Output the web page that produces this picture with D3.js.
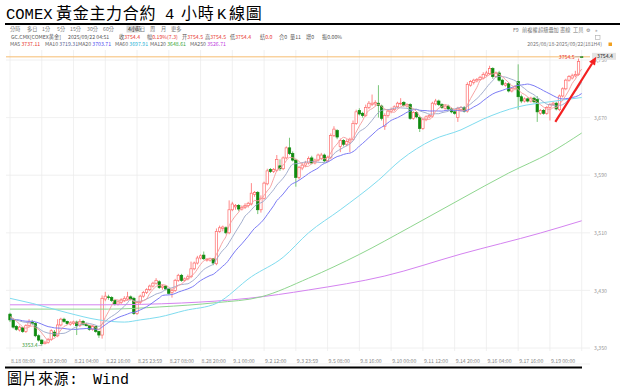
<!DOCTYPE html>
<html><head><meta charset="utf-8">
<script src="https://cdn.jsdelivr.net/npm/d3@7"></script>
<style>body{margin:0;background:#fff;} svg{display:block;}</style>
</head><body>
<svg id="c" width="622" height="391"></svg>
<script>
// ---------- DATA ----------
const open = [3397,3389,3380,3375,3378,3373,3381,3386,3384,3367,3361,3356,3358,3362,3372,3367,3382,3390,3387,3383,
3384,3386,3381,3387,3383,3381,3376,3380,3373,3368,3418,3421,3420,3416,3411,3413,3416,3418,3421,3419,
3398,3413,3422,3427,3431,3436,3440,3442,3434,3436,3432,3427,3430,3444,3451,3444,3446,3449,3460,3468,
3475,3479,3472,3472,3474,3467,3512,3516,3517,3510,3542,3546,3548,3543,3545,3548,3550,3563,3566,3542,
3558,3578,3598,3595,3597,3603,3599,3614,3628,3620,3611,3587,3600,3604,3607,3614,3607,3611,3613,3618,
3610,3615,3645,3652,3630,3638,3633,3636,3640,3662,3680,3676,3673,3684,3688,3689,3690,3686,3658,3673,
3679,3681,3685,3689,3691,3686,3688,3669,3677,3670,3655,3667,3671,3672,3689,3693,3688,3683,3686,3682,
3678,3670,3681,3684,3679,3715,3719,3721,3723,3725,3729,3731,3738,3727,3732,3722,3715,3717,3707,3710,
3720,3699,3693,3696,3693,3697,3695,3676,3680,3676,3684,3688,3690,3681,3700,3710,3722,3725,3728,3730,
3754.5];
const high = [3399,3391,3382,3381,3379,3383,3390,3389,3386,3369,3362,3360,3364,3376,3375,3390,3392,3392,3388,3387,
3388,3388,3390,3389,3385,3382,3382,3381,3374,3423,3428,3424,3422,3417,3416,3419,3422,3428,3423,3421,
3415,3424,3429,3433,3438,3442,3447,3444,3438,3437,3433,3432,3446,3453,3453,3448,3452,3470,3470,3478,
3480,3484,3475,3475,3475,3516,3520,3520,3519,3555,3553,3550,3550,3548,3551,3553,3579,3568,3568,3562,
3581,3599,3600,3600,3618,3612,3616,3630,3642,3623,3613,3603,3608,3610,3616,3617,3613,3620,3621,3620,
3617,3648,3658,3654,3641,3640,3640,3642,3666,3681,3683,3678,3688,3693,3702,3694,3715,3688,3676,3682,
3684,3687,3692,3697,3693,3690,3690,3679,3679,3672,3670,3673,3675,3692,3696,3695,3690,3688,3688,3684,
3681,3685,3686,3686,3719,3722,3724,3725,3728,3733,3735,3742,3740,3734,3735,3724,3719,3719,3712,3715,
3744,3702,3698,3698,3699,3699,3700,3682,3682,3686,3690,3692,3692,3702,3712,3724,3729,3731,3735,3752,
3754.5];
const low = [3386,3377,3374,3373,3371,3371,3379,3382,3365,3359,3353.4,3355,3356,3360,3365,3365,3380,3385,3382,3381,
3382,3368,3379,3381,3380,3374,3374,3371,3364,3363,3415,3417,3414,3409,3409,3411,3414,3416,3416,3396,
3396,3411,3420,3425,3429,3434,3438,3432,3431,3430,3424,3420,3428,3442,3442,3442,3444,3447,3458,3466,
3473,3472,3470,3470,3465,3465,3510,3512,3508,3508,3540,3542,3540,3541,3543,3545,3548,3560,3536,3538,
3556,3576,3593,3593,3595,3596,3597,3612,3618,3609,3574,3584,3597,3601,3605,3605,3605,3609,3611,3608,
3608,3612,3643,3640,3622,3630,3630,3622,3638,3660,3673,3670,3671,3682,3686,3686,3670,3666,3653,3670,
3676,3679,3683,3687,3685,3684,3667,3667,3669,3650,3653,3665,3669,3670,3687,3686,3682,3681,3680,3676,
3674,3664,3678,3677,3677,3713,3716,3719,3721,3723,3727,3729,3724,3725,3720,3714,3713,3705,3705,3708,
3681,3690,3691,3691,3691,3690,3664,3674,3674,3674,3666,3686,3680,3679,3698,3708,3720,3723,3726,3728,
3754.4];
const close = [3389,3379,3376,3379,3373,3381,3386,3384,3367,3361,3356,3358,3362,3374,3367,3382,3390,3387,3384,3385,
3386,3381,3387,3383,3381,3376,3380,3373,3368,3419,3422,3420,3416,3411,3414,3417,3419,3421,3418,3398,
3413,3422,3427,3431,3436,3440,3444,3434,3436,3432,3426,3430,3444,3451,3444,3446,3449,3460,3468,3475,
3478,3474,3473,3474,3468,3512,3517,3518,3510,3542,3550,3548,3543,3545,3548,3551,3565,3566,3542,3558,
3579,3596,3595,3598,3612,3599,3614,3628,3620,3611,3587,3601,3604,3607,3613,3607,3611,3618,3618,3610,
3615,3645,3654,3643,3638,3633,3637,3640,3662,3678,3675,3673,3684,3690,3690,3691,3687,3669,3673,3679,
3681,3685,3690,3690,3687,3688,3669,3677,3671,3655,3667,3671,3673,3690,3693,3688,3684,3686,3682,3678,
3676,3683,3684,3679,3716,3720,3722,3723,3726,3730,3732,3738,3727,3732,3722,3716,3717,3707,3710,3713,
3699,3693,3696,3693,3697,3692,3678,3680,3676,3684,3688,3690,3682,3700,3710,3722,3727,3728,3730,3748,
3754.4];
// closes before the first visible bar (for the short moving averages)
const prevCloses = [3382,3386,3390,3395,3392,3388,3385,3383,3387,3392,3396,3393,3390,3386,3388,3392,3395,3398,3394];

// long moving averages: [bar index, value]
const ma60Pts = [[0,3419],[7,3412],[18,3399],[28,3389],[36,3386],[41,3389],[47,3393],[55,3402],[65,3412],[76,3449],[86,3476],[94,3510],[104,3542],[116,3583],[123,3611],[133,3639],[142,3653],[149,3668],[160,3685],[170,3692],[180,3697.91]];
const ma120Pts = [[0,3404],[31,3404],[47,3407],[65,3413],[79,3421],[94,3447],[110,3480],[126,3518],[142,3557],[157,3593],[170,3621],[180,3648.61]];
const ma250Pts = [[0,3410],[29,3410],[54,3412.5],[75,3419],[94,3430.6],[118,3450],[142,3480.5],[167,3509.7],[180,3526.71]];

const xTickIndex = [0,10,20,30,40,50,60,70,80,90,100,110,120,130,140,150,160,170];
const xTickLabels = ["8.18 08:00","8.19 20:00","8.21 04:00","8.22 16:00","8.25 23:59","8.27 08:00","8.28 20:00","9.1 00:00","9.2 12:00","9.3 23:59","9.5 08:00","9.8 16:00","9.10 00:00","9.11 12:00","9.14 20:00","9.16 04:00","9.17 16:00","9.19 00:00"];
const gridIndex = [0,10,20,30,40,50,60,70,80,90,100,110,120,130,140,150,160,170,180];
const yTicks = [3350,3430,3510,3590,3670,3750];

const lastPrice = 3754.4, highMark = {i:180, p:3754.5}, lowMark = {i:10, p:3353.4};
const arrowFrom = {i:171.7, p:3664}, arrowTo = {i:184.6, p:3754.5};

const maLegend = [
  {name:"MA5", value:"3737.11", color:"#e8372f"},
  {name:"MA10", value:"3719.31", color:"#5a6796"},
  {name:"MA20", value:"3703.71", color:"#4b4bf0"},
  {name:"MA60", value:"3697.91", color:"#2bb3d6"},
  {name:"MA120", value:"3648.61", color:"#3aa63a"},
  {name:"MA250", value:"3526.71", color:"#c040e0"}
];

// ---------- DRAW ----------
const svg = d3.select("#c");
const FONT = "'Noto Sans CJK TC','Noto Sans',sans-serif";
const MONO = "'Liberation Mono',monospace";
const L = 6, R = 590, T = 50, B = 351;
const x = d3.scaleLinear().domain([0,180]).range([10,581.7]);
const y = d3.scaleLinear().domain([3350,3750]).range([348,60]);

// Title
const title = svg.append("text").attr("y",18.6).attr("fill","#000").attr("font-size",16).attr("font-family",FONT);
title.append("tspan").attr("x",6).attr("font-family",MONO).attr("font-size",15.5).text("COMEX");
title.append("tspan").attr("x",56).attr("letter-spacing",0.7).text("黃金主力合約");
title.append("tspan").attr("x",165).attr("font-family",MONO).attr("font-size",15.5).text("4");
title.append("tspan").attr("x",181).attr("letter-spacing",0.7).text("小時");
title.append("tspan").attr("x",217).attr("font-family",MONO).attr("font-size",15.5).text("K");
title.append("tspan").attr("x",229).attr("letter-spacing",0.7).text("線圖");
svg.append("line").attr("x1",5).attr("x2",620).attr("y1",24).attr("y2",24).attr("stroke","#000").attr("stroke-width",2);

// toolbar
const tb = [["分時",10],["多日",27],["1分",42],["5分",57],["15分",70],["30分",87],["60分",103],["4小時",128],["日",140],["周",150],["月",161],["更多",171]];
svg.append("rect").attr("x",126.5).attr("y",25.5).attr("width",12).attr("height",7).attr("fill","#d6d6d6");
tb.forEach(t=>svg.append("text").attr("x",t[1]).attr("y",31).attr("font-size",5.2).attr("font-family",FONT).attr("fill",t[0]==="4小時"?"#222":"#777").text(t[0]));
const tr = [["F9",513],["前複權",522],["超級疊加",538],["畫線",560],["工具",573],["⚙",586],["»",595]];
tr.forEach(t=>svg.append("text").attr("x",t[1]).attr("y",31.5).attr("font-size",5.2).attr("font-family",FONT).attr("fill","#777").text(t[0]));
svg.append("rect").attr("x",595.5).attr("y",35.5).attr("width",4.5).attr("height",4).attr("fill","none").attr("stroke","#aaa").attr("stroke-width",0.6);
svg.append("text").attr("x",602).attr("y",46).attr("text-anchor","end").attr("font-size",5.2).attr("font-family",FONT).attr("fill","#777").text("2025/08/18-2025/09/22(181H4)");
svg.append("rect").attr("x",608.5).attr("y",42.5).attr("width",3.5).attr("height",3.5).attr("fill","#f0a020");

// row 2
const row2 = [["GC.CMX[COMEX黄金]","",11],["2025/09/22 04:51","",68],["收","3754.4",119],["幅","0.19%(7.3)",147],["开","3754.5",182],["高","3754.5",205],["低","3754.4",230],["结","0.0",260],["合","0",279],["量","11",290],["增","0",306],["振","0.00%",322]];
row2.forEach((r,k)=>{
  const t = svg.append("text").attr("x",r[2]).attr("y",38.5).attr("font-size",5.2).attr("font-family",FONT).attr("fill","#555");
  t.append("tspan").text(r[0]);
  if(r[1]) t.append("tspan").attr("fill", k<=7 ? "#e8372f" : "#555").text(r[1]);
});
// row 3 MA legend
const maX = [10,45,78,115,150,190];
maLegend.forEach((m,k)=>{
  const t = svg.append("text").attr("x",maX[k]).attr("y",45.5).attr("font-size",5.2).attr("font-family",FONT).attr("fill","#666");
  t.append("tspan").text(m.name+" ");
  t.append("tspan").attr("fill",m.color).text(m.value);
});

// clip
svg.append("clipPath").attr("id","pc").append("rect").attr("x",L).attr("y",T).attr("width",R-L).attr("height",B-T);

// grid
const g = svg.append("g");
g.selectAll(".vg").data(gridIndex).enter().append("line")
  .attr("x1",d=>x(d)).attr("x2",d=>x(d)).attr("y1",T).attr("y2",B).attr("stroke","#ececec").attr("stroke-width",0.8);
g.selectAll(".hg").data(yTicks).enter().append("line")
  .attr("x1",L).attr("x2",R).attr("y1",d=>y(d)).attr("y2",d=>y(d)).attr("stroke","#ececec").attr("stroke-width",0.8);
svg.append("line").attr("x1",L).attr("x2",R).attr("y1",B+13).attr("y2",B+13).attr("stroke","#eeeeee").attr("stroke-width",0.8);

// right axis
const ya = svg.append("g").attr("transform",`translate(${R+3},0)`)
  .call(d3.axisRight(y).tickValues(yTicks).tickSize(0).tickPadding(1));
ya.select(".domain").remove();
ya.selectAll("text").attr("font-size",5.2).attr("fill","#999").attr("font-family",FONT);

// bottom labels
svg.append("g").selectAll("text").data(xTickIndex).enter().append("text")
  .attr("x",d=>x(d)+1).attr("y",B+12).attr("text-anchor","start")
  .attr("font-size",5.2).attr("fill","#888").attr("font-family",FONT)
  .text((d,i)=>xTickLabels[i]);

// last price line
svg.append("line").attr("x1",L).attr("x2",R).attr("y1",y(lastPrice)).attr("y2",y(lastPrice)).attr("stroke","#f6bd70").attr("stroke-width",1);

const plot = svg.append("g").attr("clip-path","url(#pc)");
const bars = d3.range(close.length).map(i=>({i,o:open[i],h:high[i],l:low[i],c:close[i]}));
const up = d=>d.c>=d.o;
const bw = 2.4;
plot.selectAll(".wick").data(bars).enter().append("line")
  .attr("x1",d=>x(d.i)).attr("x2",d=>x(d.i)).attr("y1",d=>y(d.h)).attr("y2",d=>y(d.l))
  .attr("stroke",d=>up(d)?"#ff6a6a":"#58b858").attr("stroke-width",0.8);
plot.selectAll(".body").data(bars).enter().append("rect")
  .attr("x",d=>x(d.i)-bw/2).attr("width",bw)
  .attr("y",d=>y(Math.max(d.o,d.c))).attr("height",d=>Math.max(0.6,Math.abs(y(d.o)-y(d.c))))
  .attr("fill",d=>up(d)?"#fff":"#0f8a0f").attr("stroke",d=>up(d)?"#ff6a6a":"#0f8a0f").attr("stroke-width",0.7);

// moving averages
const allC = prevCloses.concat(close);
function sma(n){ return close.map((c,i)=>{ const j=i+prevCloses.length; return d3.mean(allC.slice(j-n+1,j+1)); }); }
const lineI = d3.line().x((d,i)=>x(i)).y(d=>y(d)).curve(d3.curveMonotoneX);
const lineP = d3.line().x(d=>x(d[0])).y(d=>y(d[1])).curve(d3.curveMonotoneX);
plot.append("path").attr("d",lineP(ma250Pts)).attr("fill","none").attr("stroke","#d483f0").attr("stroke-width",1);
plot.append("path").attr("d",lineP(ma120Pts)).attr("fill","none").attr("stroke","#8fd68f").attr("stroke-width",1);
plot.append("path").attr("d",lineP(ma60Pts)).attr("fill","none").attr("stroke","#7fdcef").attr("stroke-width",1);
plot.append("path").attr("d",lineI(sma(20))).attr("fill","none").attr("stroke","#7b7bf5").attr("stroke-width",1);
plot.append("path").attr("d",lineI(sma(10))).attr("fill","none").attr("stroke","#9aa6c8").attr("stroke-width",0.9);
plot.append("path").attr("d",lineI(sma(5))).attr("fill","none").attr("stroke","#f59a9a").attr("stroke-width",0.9);

// high / low markers
svg.append("text").attr("x",x(highMark.i)-7).attr("y",y(highMark.p)+1.8).attr("text-anchor","end").attr("font-size",5.2).attr("font-family",FONT).attr("fill","#e8372f").text(highMark.p.toFixed(1));
svg.append("line").attr("x1",x(highMark.i)-6.5).attr("x2",x(highMark.i)).attr("y1",y(highMark.p)).attr("y2",y(highMark.p)).attr("stroke","#999").attr("stroke-width",0.6);
svg.append("text").attr("x",x(lowMark.i)-4).attr("y",y(lowMark.p)+1.8).attr("text-anchor","end").attr("font-size",5.2).attr("font-family",FONT).attr("fill","#3a9a3a").text(lowMark.p.toFixed(1));
svg.append("line").attr("x1",x(lowMark.i)-3.5).attr("x2",x(lowMark.i)).attr("y1",y(lowMark.p)).attr("y2",y(lowMark.p)).attr("stroke","#999").attr("stroke-width",0.6);

// last price tag
svg.append("rect").attr("x",592).attr("y",y(lastPrice)-4).attr("width",24).attr("height",7).attr("fill","#e4e4e4");
svg.append("text").attr("x",605).attr("y",y(lastPrice)+1.5).attr("text-anchor","middle").attr("font-size",5.2).attr("font-family",FONT).attr("fill","#222").text(lastPrice.toFixed(1));

// red arrow
const ax1=x(arrowFrom.i), ay1=y(arrowFrom.p), ax2=x(arrowTo.i), ay2=y(arrowTo.p);
const ang = Math.atan2(ay2-ay1, ax2-ax1), hl=8, hw=3.5;
const bx = ax2-hl*Math.cos(ang), by = ay2-hl*Math.sin(ang);
svg.append("line").attr("x1",ax1).attr("y1",ay1).attr("x2",bx).attr("y2",by).attr("stroke","#f42020").attr("stroke-width",2.2);
svg.append("path").attr("d",`M${ax2},${ay2}L${bx+hw*Math.sin(ang)},${by-hw*Math.cos(ang)}L${bx-hw*Math.sin(ang)},${by+hw*Math.cos(ang)}Z`).attr("fill","#f42020");

// bottom rule and source
svg.append("line").attr("x1",5).attr("x2",582).attr("y1",367.5).attr("y2",367.5).attr("stroke","#000").attr("stroke-width",2);
const src = svg.append("text").attr("y",384).attr("font-size",15).attr("font-family",FONT).attr("fill","#000");
src.append("tspan").attr("x",7).attr("letter-spacing",0.5).text("圖片來源");
src.append("tspan").attr("font-family",MONO).text(":");
src.append("tspan").attr("x",93).attr("font-family",MONO).text("Wind");
</script>
</body></html>
